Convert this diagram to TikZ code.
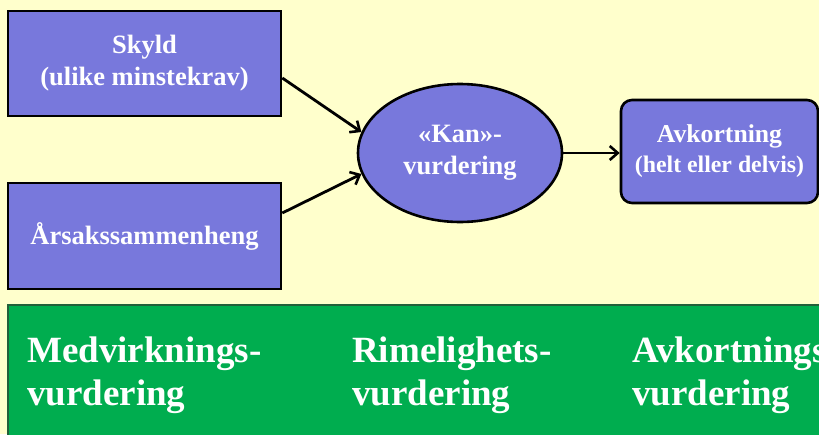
\documentclass[tikz,border=0pt]{standalone}
\usepackage{fontspec}
\setmainfont{Liberation Serif}
\usetikzlibrary{shapes.geometric,arrows.meta}
\definecolor{bgyel}{HTML}{FFFFCC}
\definecolor{boxpur}{HTML}{7878DC}
\definecolor{grn}{HTML}{00AD4F}
\definecolor{grnedge}{HTML}{22603A}
\tikzset{
  pbox/.style={draw=black, line width=2.6pt, fill=boxpur, text=white, font=\bfseries\fontsize{26.5}{32}\selectfont, align=center, inner sep=0pt},
  arr/.style={draw=black, line width=2.8pt, -{Straight Barb[length=8pt,width=14pt,line width=2.6pt]}},
  gtext/.style={text=white, font=\bfseries\fontsize{37}{43}\selectfont, align=left, anchor=base west, inner sep=0pt}
}
\begin{document}
\begin{tikzpicture}[x=1pt,y=-1pt]
\useasboundingbox (0,0) rectangle (819,434);
\clip (0,0) rectangle (819,434);
\fill[bgyel] (0,0) rectangle (819,434);
% green panel
\draw[fill=grn, draw=grnedge, line width=2.5pt] (8,305) rectangle (830,445);
\node[gtext] (g1) at (27,405) {Medvirknings-\\vurdering};
\node[gtext] (g2) at (352,405) {Rimelighets-\\vurdering};
\node[gtext] (g3) at (632,405) {Avkortnings-\\vurdering};
% boxes
\node[pbox, minimum width=273pt, minimum height=105pt] (skyld) at (144.5,63.5) {Skyld\\(ulike minstekrav)};
\node[pbox, minimum width=273pt, minimum height=106pt] (arsak) at (144.5,236) {Årsakssammenheng};
\node[pbox, ellipse, minimum width=204pt, minimum height=138pt] (kan) at (460,153) {«Kan»-\\vurdering};
\node[pbox, rounded corners=11pt, minimum width=197pt, minimum height=103pt] (avk) at (719.5,151.5)
  {\fontsize{25.7}{28}\selectfont Avkortning\\[-2pt]{\fontsize{23.8}{28}\selectfont (helt eller delvis)}};
% connectors
\draw[arr] ([yshift=-14.5pt]skyld.east) -- (kan.168);
\draw[arr] ([yshift=23pt]arsak.east) -- (kan.192);
\draw[arr] (kan.east) -- (kan.east -| avk.west);
\end{tikzpicture}
\end{document}
